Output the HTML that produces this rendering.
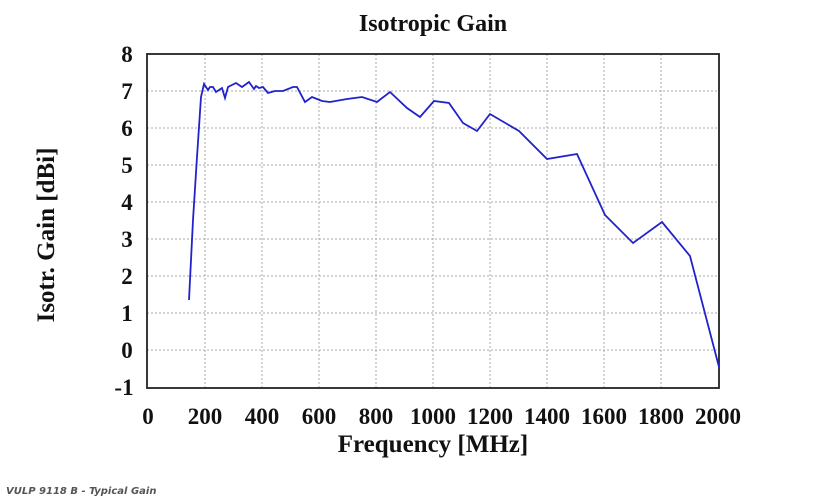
<!DOCTYPE html>
<html><head><meta charset="utf-8"><style>
body{margin:0;background:#fff;width:813px;height:504px;overflow:hidden}
svg text{font-family:"Liberation Serif",serif;font-weight:bold;fill:#111}
.cap{position:absolute;left:6px;top:486px;font:italic bold 10px "DejaVu Sans",sans-serif;color:#555}
</style></head><body>
<svg width="813" height="504" style="position:absolute;left:0;top:0">
<g stroke="#aaa" stroke-width="1" stroke-dasharray="2,2">
<line x1="205" y1="54" x2="205" y2="388"/><line x1="262" y1="54" x2="262" y2="388"/><line x1="319" y1="54" x2="319" y2="388"/><line x1="376" y1="54" x2="376" y2="388"/><line x1="433" y1="54" x2="433" y2="388"/><line x1="490" y1="54" x2="490" y2="388"/><line x1="547" y1="54" x2="547" y2="388"/><line x1="604" y1="54" x2="604" y2="388"/><line x1="661" y1="54" x2="661" y2="388"/>
<line x1="147" y1="91" x2="719" y2="91"/><line x1="147" y1="128" x2="719" y2="128"/><line x1="147" y1="165" x2="719" y2="165"/><line x1="147" y1="202" x2="719" y2="202"/><line x1="147" y1="239" x2="719" y2="239"/><line x1="147" y1="276" x2="719" y2="276"/><line x1="147" y1="313" x2="719" y2="313"/><line x1="147" y1="350" x2="719" y2="350"/>
</g>
<rect x="147" y="54" width="572" height="334" fill="none" stroke="#222" stroke-width="1.8"/>
<polyline fill="none" stroke="#2222cc" stroke-width="1.8" points="189,300 193,220 197,157 201,97 204,84 208,90 210,87 213,87 216,92 222,88 225,98 228,87 236,83 242,87 249,82 254,89 256,86 259,88 263,87 268,93 275,91 283,91 293,87 297,87 305,102 312,97 322,101 330,102 347,99 362,97 377,102 390,92 407,108 420,117 434,101 449,103 463,123 477,131 490,114 519,131 547,159 577,154 605,215 633,243 662,222 690,256 719,367"/>
<g font-size="23" text-anchor="middle">
<text x="127" y="62">8</text><text x="127" y="99">7</text><text x="127" y="136">6</text><text x="127" y="173">5</text><text x="127" y="210">4</text><text x="127" y="247">3</text><text x="127" y="284">2</text><text x="127" y="321">1</text><text x="127" y="358">0</text><text x="124" y="395">-1</text>
</g>
<g font-size="23" text-anchor="middle">
<text x="148" y="424">0</text><text x="205" y="424">200</text><text x="262" y="424">400</text><text x="319" y="424">600</text><text x="376" y="424">800</text><text x="433" y="424">1000</text><text x="490" y="424">1200</text><text x="547" y="424">1400</text><text x="604" y="424">1600</text><text x="661" y="424">1800</text><text x="718" y="424">2000</text>
<text x="433" y="452" font-size="25">Frequency [MHz]</text>
<text x="433" y="31" font-size="24">Isotropic Gain</text>
<text transform="translate(54,235) rotate(-90)" font-size="25">Isotr. Gain [dBi]</text>
</g>
</svg>
<div class="cap">VULP 9118 B - Typical Gain</div>
</body></html>
